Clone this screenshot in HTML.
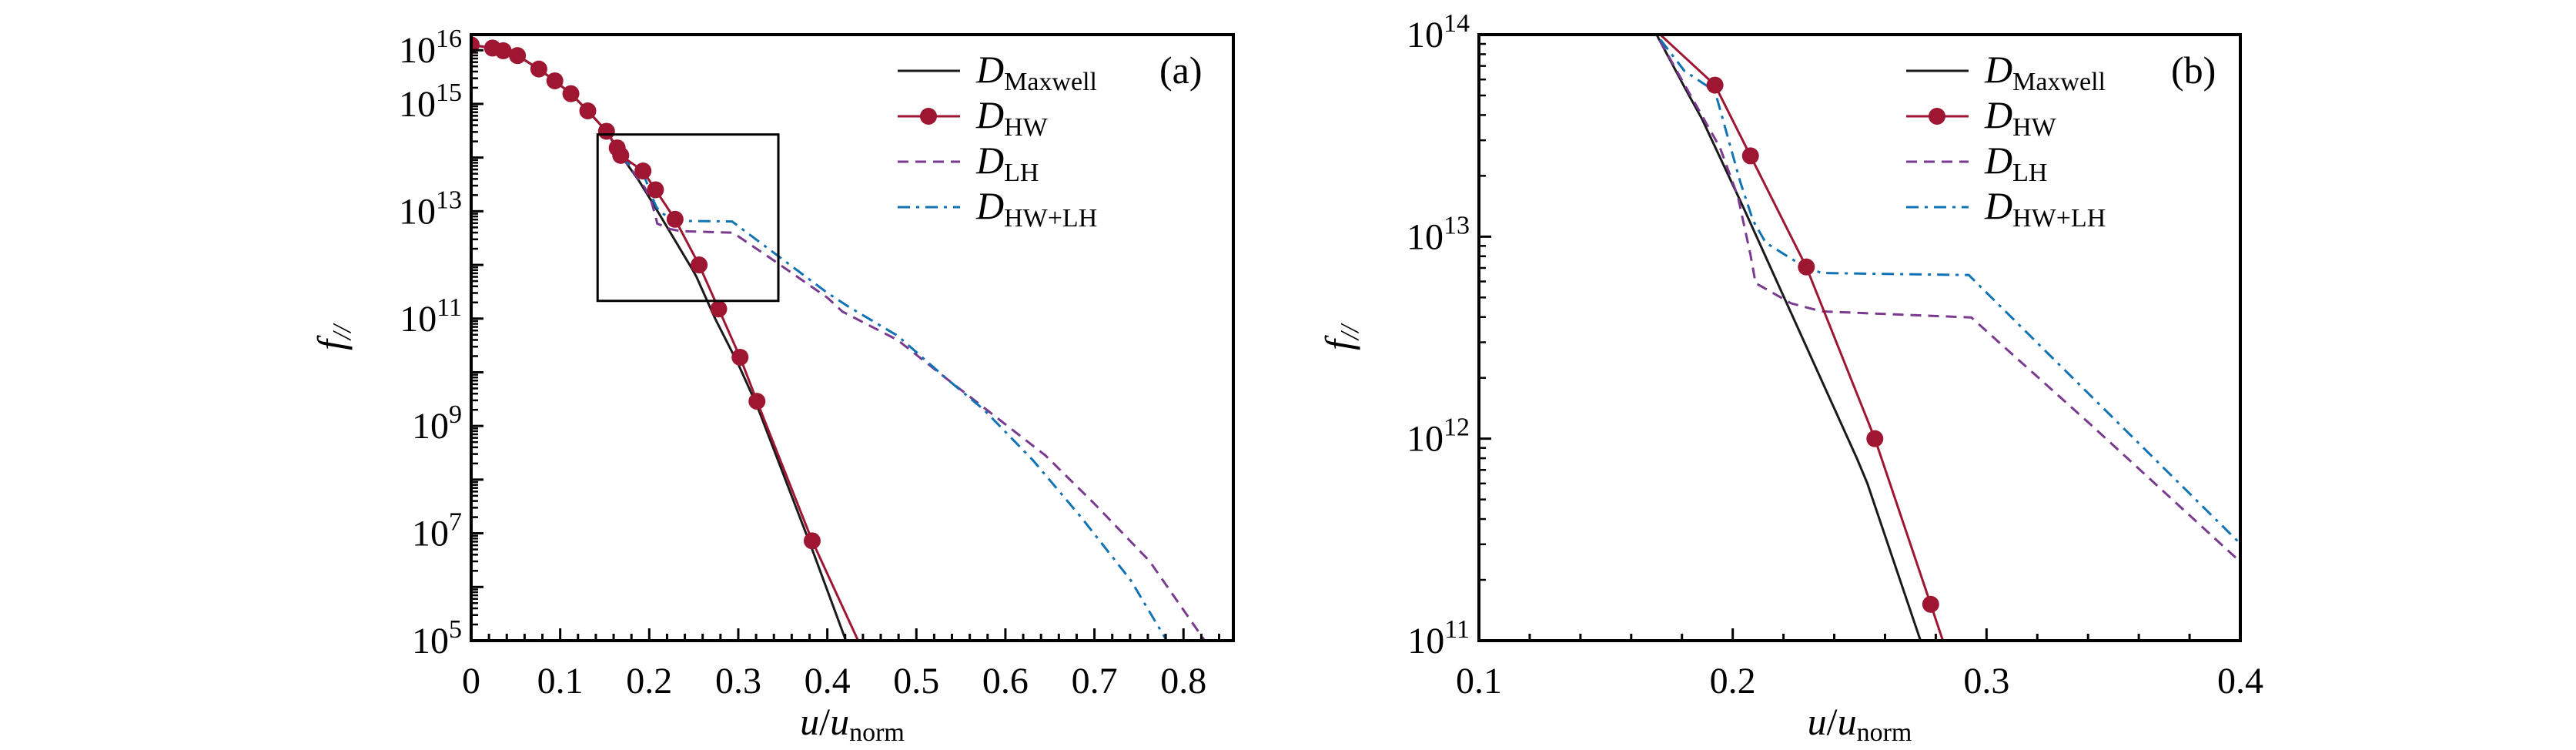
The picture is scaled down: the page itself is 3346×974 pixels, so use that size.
<!DOCTYPE html>
<html><head><meta charset="utf-8"><style>
html,body{margin:0;padding:0;background:#fff;width:3346px;height:974px;overflow:hidden;}
svg{display:block;font-family:"Liberation Serif",serif;}
</style></head><body>
<svg id="chart" width="3346" height="974" viewBox="0 0 3346 974" xmlns="http://www.w3.org/2000/svg">
<g id="pa"></g>
<g id="pb"></g>
</svg>
<script>
// data: x = u/u_norm, y = log10(f//)
const maxX = [0,0.024,0.052,0.076,0.094,0.112,0.131,0.152,0.17,0.181,0.188,0.204,0.222,0.249,0.253,0.274,0.3,0.321,0.383,0.422];
const maxY = [16.1,16.04,15.9,15.65,15.43,15.19,14.87,14.49,14.0,13.74,13.58,13.15,12.65,11.9,11.78,11.0,10.15,9.38,6.7,4.95];
const hwX = [0,0.024,0.036,0.052,0.076,0.094,0.112,0.131,0.152,0.164,0.168,0.193,0.207,0.229,0.256,0.278,0.302,0.321,0.383,0.436];
const hwY = [16.1,16.04,15.99,15.9,15.65,15.43,15.19,14.87,14.49,14.18,14.04,13.75,13.4,12.85,12.0,11.18,10.28,9.46,6.86,4.95];
const hwMarkerCount = 19;
const lhX = [0,0.024,0.052,0.076,0.094,0.112,0.131,0.152,0.17,0.178,0.195,0.202,0.207,0.209,0.223,0.235,0.294,0.341,0.4,0.417,0.479,0.534,0.59,0.645,0.7,0.762,0.826];
const lhY = [16.1,16.04,15.9,15.65,15.43,15.19,14.87,14.49,14.0,13.82,13.44,13.2,12.91,12.77,12.67,12.63,12.6,12.07,11.39,11.13,10.6,9.88,9.16,8.45,7.55,6.48,4.95];
const hlX = [0,0.024,0.052,0.076,0.094,0.112,0.131,0.152,0.17,0.181,0.193,0.203,0.208,0.213,0.227,0.235,0.293,0.334,0.4,0.424,0.479,0.534,0.576,0.631,0.686,0.741,0.783];
const hlY = [16.1,16.04,15.9,15.65,15.43,15.19,14.87,14.49,14.0,13.82,13.72,13.27,13.08,12.97,12.86,12.82,12.81,12.3,11.48,11.22,10.68,9.88,9.3,8.36,7.28,6.12,4.95];
const xTicksA = [0,0.1,0.2,0.3,0.4,0.5,0.6,0.7,0.8];
const yLabelsA = [16,15,13,11,9,7,5];
const xTicksB = [0.1,0.2,0.3,0.4];
const yLabelsB = [14,13,12,11];
const insetX = [0.142,0.345];
const insetY = [14.43,11.33];

const NS="http://www.w3.org/2000/svg";
function mk(parent,tag,attrs){const e=document.createElementNS(NS,tag);for(const k in attrs)e.setAttribute(k,attrs[k]);parent.appendChild(e);return e;}
const colors={max:"#1a1a1a",hw:"#9e1631",lh:"#7a3a8f",hl:"#1173b4"};

function panel(g,P){
  const sx=v=>P.x0+(v-P.xmin)/(P.xmax-P.xmin)*(P.x1-P.x0);
  const sy=v=>P.y1-(v-P.ymin)/(P.ymax-P.ymin)*(P.y1-P.y0);
  const cid="clip"+P.id;
  const defs=mk(g,"defs",{});
  const cp=mk(defs,"clipPath",{id:cid});
  mk(cp,"rect",{x:P.x0,y:P.y0,width:P.x1-P.x0,height:P.y1-P.y0});
  const plot=mk(g,"g",{"clip-path":"url(#"+cid+")"});
  
  
  function line(xs,ys,col,dash,name){
    const p=mk(plot,"polyline",{points:xs.map((x,i)=>sx(x)+","+sy(ys[i])).join(" "),fill:"none",stroke:col,"stroke-width":3});
    if(dash)p.setAttribute("stroke-dasharray",dash);
    
    
  }
  line(maxX,maxY,colors.max,null,"maxwell-line");
  line(lhX,lhY,colors.lh,"14,9","lh-line");
  line(hlX,hlY,colors.hl,"16,8,4,8","hw-lh-line");
  line(hwX,hwY,colors.hw,null,"hw-line");
  for(let i=0;i<hwMarkerCount;i++){
    const c=mk(plot,"circle",{cx:sx(hwX[i]),cy:sy(hwY[i]),r:11,fill:colors.hw});
    
    
  }
  if(P.inset){
    const r=mk(g,"rect",{x:sx(insetX[0]),y:sy(insetY[0]),width:sx(insetX[1])-sx(insetX[0]),height:sy(insetY[1])-sy(insetY[0]),fill:"none",stroke:"#000","stroke-width":3});
    
    
  }
  const fr=mk(g,"rect",{x:P.x0,y:P.y0,width:P.x1-P.x0,height:P.y1-P.y0,fill:"none",stroke:"#000","stroke-width":4});
  
  
  const xa=mk(g,"g",{});
  
  
  for(let v=P.xmin;v<=P.xmax+1e-9;v+=0.02){
    const major=Math.abs(v*10-Math.round(v*10))<1e-6;
    mk(xa,"line",{x1:sx(v),x2:sx(v),y1:P.y1,y2:P.y1-(major?16:9),stroke:"#000","stroke-width":3});
  }
  P.xt.forEach(v=>{
    const t=mk(xa,"text",{x:sx(v),y:P.y1+68,"font-size":48,"text-anchor":"middle"});
    t.textContent=v===0?"0":v.toFixed(1);
    
    
  });
  const ya=mk(g,"g",{});
  
  
  for(let d=Math.floor(P.ymin);d<=P.ymax;d++){
    if(d>=P.ymin) mk(ya,"line",{x1:P.x0,x2:P.x0+16,y1:sy(d),y2:sy(d),stroke:"#000","stroke-width":3});
    for(let m=2;m<10;m++){const l=d+Math.log10(m);if(l>P.ymin&&l<P.ymax)mk(ya,"line",{x1:P.x0,x2:P.x0+9,y1:sy(l),y2:sy(l),stroke:"#000","stroke-width":2.5});}
  }
  P.yl.forEach(v=>{
    const t=mk(ya,"text",{x:P.x0-12,y:sy(v)+16,"font-size":48,"text-anchor":"end"});
    
    
    const a=mk(t,"tspan",{});a.textContent="10";
    const b=mk(t,"tspan",{dy:-20,"font-size":34});b.textContent=String(v);
  });
  const xt=mk(g,"text",{x:(P.x0+P.x1)/2,y:P.y1+122,"font-size":50,"text-anchor":"middle"});
  
  
  xt.innerHTML='<tspan font-style="italic">u</tspan>/<tspan font-style="italic">u</tspan><tspan font-size="34" dy="8">norm</tspan>';
  const yt=mk(g,"text",{x:0,y:0,"font-size":50,"text-anchor":"middle",transform:"translate("+(P.x0-165)+","+((P.y0+P.y1)/2)+") rotate(-90)"});
  
  
  yt.innerHTML='<tspan font-style="italic">f</tspan><tspan font-size="34" dy="8" font-style="italic">//</tspan>';
  const lg=mk(g,"g",{});
  
  
  const ent=[["Maxwell",colors.max,null,false],["HW",colors.hw,null,true],["LH",colors.lh,"14,9",false],["HW+LH",colors.hl,"16,8,4,8",false]];
  ent.forEach((e,i)=>{
    const y=P.ly+i*59;
    const ge=mk(lg,"g",{});
    
    
    const l=mk(ge,"line",{x1:P.lx,x2:P.lx+81,y1:y,y2:y,stroke:e[1],"stroke-width":3});
    if(e[2])l.setAttribute("stroke-dasharray",e[2]);
    if(e[3])mk(ge,"circle",{cx:P.lx+40,cy:y,r:11,fill:e[1]});
    const t=mk(ge,"text",{x:P.lx+102,y:y+15,"font-size":50});
    t.innerHTML='<tspan font-style="italic">D</tspan><tspan font-size="34" dy="10">'+e[0]+'</tspan>';
  });
  const pl=mk(g,"text",{x:P.px,y:P.ly+16,"font-size":50});
  pl.textContent=P.label;
  
  
}
panel(document.getElementById("pa"),{id:"a",x0:612,x1:1602,y0:45,y1:832,xmin:0,xmax:0.856,ymin:5,ymax:16.29,xt:xTicksA,yl:yLabelsA,inset:true,lx:1166,ly:92,px:1506,label:"(a)"});
panel(document.getElementById("pb"),{id:"b",x0:1921,x1:2910,y0:45,y1:832,xmin:0.1,xmax:0.4,ymin:11,ymax:14,xt:xTicksB,yl:yLabelsB,inset:false,lx:2476,ly:92,px:2820,label:"(b)"});
</script>
</body></html>
